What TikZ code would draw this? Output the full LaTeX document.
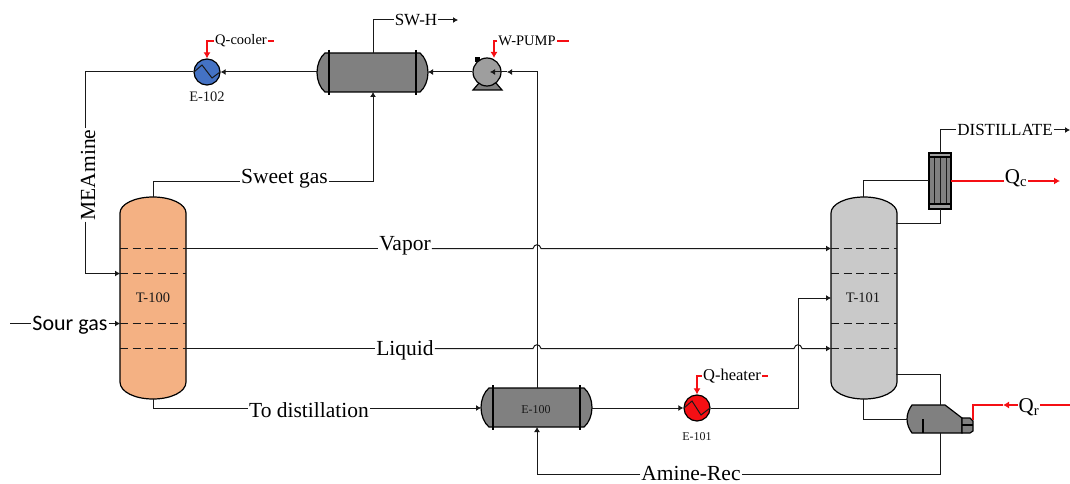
\documentclass[tikz,border=0pt]{standalone}
\usepackage{fontspec}
\setmainfont{Liberation Serif}
\newfontfamily\calibrifont{Carlito}
\usetikzlibrary{calc, arrows.meta, positioning}
\definecolor{mainBlack}{gray}{0.1}
\definecolor{shellGray}{gray}{0.5}
\definecolor{pumpGray}{gray}{0.62}
\definecolor{towerOrange}{HTML}{F4B183}
\definecolor{towerGray}{HTML}{C9C9C9}
\definecolor{coolerBlue}{HTML}{4472C4}
\definecolor{heatRed}{HTML}{F50F14}
\tikzset{
    stream/.style={line width=1pt, mainBlack},
    feed/.style={stream, -{Latex[length=5pt,width=6pt]}},
    duct/.style={line width=1.1pt, heatRed},
    ductin/.style={duct, -{Latex[length=6pt,width=7pt]}},
    wall/.style={line width=1.2pt, black},
    tray/.style={line width=1pt, mainBlack, dash pattern=on 8pt off 4.5pt},
    big/.style={font=\fontsize{21.5}{23}\selectfont, inner sep=1pt},
    mid/.style={font=\fontsize{17}{18}\selectfont, inner sep=1pt},
    small/.style={font=\fontsize{14.5}{16}\selectfont, inner sep=1pt},
    tag/.style={font=\fontsize{12}{13}\selectfont, mainBlack, inner sep=0pt},
    bigtag/.style={font=\fontsize{14.5}{15}\selectfont, mainBlack, inner sep=0pt},
}
\begin{document}
\begin{tikzpicture}[x=1pt, y=-1pt]
    \useasboundingbox (0,0) rectangle (1070,484);

    % towers
    \foreach \tx/\tcol in {120/towerOrange, 831/towerGray} {
        \begin{scope}[shift={(\tx,0)}]
            \draw[wall, fill=\tcol] (0,213) .. controls (0,204) and (15,197) .. (33,197)
                .. controls (51,197) and (66,204) .. (66,213) -- (66,382)
                .. controls (66,392) and (51,399) .. (33,399)
                .. controls (15,399) and (0,392) .. (0,382) -- cycle;
            \foreach \ty in {248.5,273.5,323.5,348.5} \draw[tray] (0,\ty) -- (66,\ty);
        \end{scope}
    }
    \node[bigtag] (T100) at (153,298) {T-100};
    \node[bigtag] (T101) at (863,298) {T-101};

    % shells
    \foreach \sx/\sy in {317/53, 481/388} {
        \begin{scope}[shift={(\sx,\sy)}]
            \draw[wall, fill=shellGray] (8,0) -- (103,0) .. controls (108,4) and (111,12) .. (111,19.5)
                .. controls (111,27) and (108,35) .. (103,39) -- (8,39)
                .. controls (3,35) and (0,27) .. (0,19.5)
                .. controls (0,12) and (3,4) .. (8,0) -- cycle;
            \draw[wall] (12,-3) -- (12,42);
            \draw[wall] (99,-3) -- (99,42);
        \end{scope}
    }
    \node[tag] (E100) at (536,410) {E-100};

    % coolers and heaters
    \node[circle, draw=black, line width=1.2pt, fill=coolerBlue, minimum size=26pt, inner sep=0pt] (E102) at (207,72) {};
    \node[circle, draw=black, line width=1.2pt, fill=heatRed, minimum size=26pt, inner sep=0pt] (E101) at (697,408) {};
    \draw[stream] (194,72) -- (202,65) -- (212,78) -- (220,72);
    \draw[stream] (684,408) -- (692,401) -- (701,415) -- (710,408);
    \node[bigtag] (E102tag) at (207,97) {E-102};
    \node[tag] (E101tag) at (697,437) {E-101};

    % pump
    \draw[wall, fill=shellGray] (473,90) -- (479,83) -- (496,83) -- (502,90) -- cycle;
    \fill[black] (475,57) rectangle (480,62);
    \node[circle, draw=black, line width=1.2pt, fill=pumpGray, minimum size=28pt, inner sep=0pt] (PUMP) at (487,72) {};

    % condenser
    \draw[wall, fill=shellGray] (929,153) rectangle (951,209);
    \foreach \cx in {934,940,946} \draw[stream] (\cx,157) -- (\cx,204);
    \draw[wall, fill=pumpGray] (929,153) rectangle (951,157);
    \draw[wall, fill=pumpGray] (929,204) rectangle (951,209);

    % reboiler
    \draw[wall, fill=shellGray] (912,405) -- (945,405) -- (962,418) -- (962,433) -- (912,433)
        .. controls (909,429) and (907,424) .. (907,419) .. controls (907,414) and (909,409) .. (912,405) -- cycle;
    \draw[wall, fill=shellGray] (962,418) -- (970,418) -- (973,421) -- (973,431) -- (970,433) -- (962,433) -- cycle;
    \draw[wall] (962,425) -- (973,425);
    \draw[wall] (923,419) -- (923,433);

    % stream labels
    \node[big] (sweet) at (284.5,178.5) {Sweet gas};
    \node[big] (vapor) at (405,245.5) {Vapor};
    \node[big] (liquid) at (405,350) {Liquid};
    \node[big] (todist) at (309,410) {To distillation};
    \node[big] (aminerec) at (691,473) {Amine-Rec};
    \node[big, rotate=90] (meamine) at (88,175) {MEAmine};
    \node[font=\calibrifont\fontsize{22}{24}\selectfont, inner sep=1pt] (sour) at (70,325) {Sour gas};
    \node[mid] (swh) at (416,20) {SW-H};
    \node[mid] (distillate) at (1005,130) {DISTILLATE};
    \node[small] (qcooler) at (241,41) {Q-cooler};
    \node[small] (wpump) at (527,41) {W-PUMP};
    \node[font=\fontsize{16.5}{18}\selectfont, inner sep=1pt] (qheater) at (732,376) {Q-heater};
    \node[font=\fontsize{21}{22}\selectfont, inner sep=1pt] (qc) at (1016,178) {Q\textsubscript{c}};
    \node[font=\fontsize{21}{22}\selectfont, inner sep=1pt] (qr) at (1029,407) {Q\textsubscript{r}};

    % ports
    \coordinate (sourin) at (10,323.5);
    \coordinate (topA) at (153,197);
    \coordinate (botA) at (153,399);
    \coordinate (hxA) at (373,92);
    \coordinate (hxAtop) at (373,53);
    \coordinate (hxAleft) at (317,72);
    \coordinate (hxAright) at (428,72);
    \coordinate (hxBtop) at (537,388);
    \coordinate (hxBbot) at (537,427);
    \coordinate (hxBleft) at (481,408);
    \coordinate (hxBright) at (592,408);
    \coordinate (topB) at (863,197);
    \coordinate (botB) at (863,399);
    \coordinate (swhend) at (458,20);
    \coordinate (distend) at (1070,130);
    \coordinate (qcend) at (1060,181);
    \coordinate (qrfree) at (1070,405);

    % streams
    \draw[stream] (topA) |- ([yshift=-2.5pt]sweet.west);
    \draw[feed] ([yshift=-2.5pt]sweet.east) -| (hxA);
    \draw[stream] (E102) -| ([xshift=-3pt]meamine.east);
    \draw[feed] ([xshift=-3pt]meamine.west) |- (120,273.5);
    \draw[feed] (hxAleft) -- (E102);
    \draw[feed] (PUMP) -- (hxAright);
    \draw[feed] (hxBtop) |- (507,72);
    \draw[feed] (507,72) -- (490,72);
    \draw[stream] (hxAtop) |- (swh);
    \draw[feed] (swh) -- (swhend);
    \draw[stream] (sourin) -- (sour.west |- sourin);
    \draw[feed] (sour.east |- sourin) -- (120,323.5);
    \draw[stream] (186,248.5) -- (vapor.west |- 0,248.5);
    \draw[feed] (vapor.east |- 0,248.5) -- (533,248.5) .. controls (534,243.5) and (540,243.5) .. (541,248.5) -- (831,248.5);
    \draw[stream] (186,348.5) -- (liquid.west |- 0,348.5);
    \draw[feed] (liquid.east |- 0,348.5) -- (533,348.5) .. controls (534,343.5) and (540,343.5) .. (541,348.5)
        -- (794,348.5) .. controls (795,343.5) and (801,343.5) .. (802,348.5) -- (831,348.5);
    \draw[stream] (botA) |- (todist.west |- hxBleft);
    \draw[feed] (todist.east |- hxBleft) -- (hxBleft);
    \draw[feed] (hxBright) -- (E101);
    \draw[feed] (E101) -| (798,298) -- (831,298);
    \draw[stream] (topB) |- (929,180);
    \draw[stream] (896,223) -| (940,209);
    \draw[stream] (940,153) |- (distillate);
    \draw[feed] (distillate) -- (distend);
    \draw[stream] (896,374) -| (940,405);
    \draw[stream] (botB) |- (907,419);
    \draw[stream] (940,433) |- (aminerec.east |- 0,474);
    \draw[feed] (aminerec.west |- 0,474) -| (hxBbot);

    % energy
    \draw[ductin] (qcooler) -| (E102);
    \draw[duct] (qcooler) -- (274,41);
    \draw[ductin] (wpump) -| (494,58);
    \draw[duct] (wpump) -- (569,41);
    \draw[ductin] (qheater) -| (E101);
    \draw[duct] (qheater) -- (768,376);
    \draw[duct] (951,181) -- (qc.west |- qcend);
    \draw[ductin] (qc.east |- qcend) -- (qcend);
    \draw[duct] (qrfree) -- (qr.east |- qrfree);
    \draw[ductin] (qr.west |- qrfree) -- (1003,405);
    \draw[duct] (1003,405) -- (973,405) -- (973,420);
\end{tikzpicture}
\end{document}
